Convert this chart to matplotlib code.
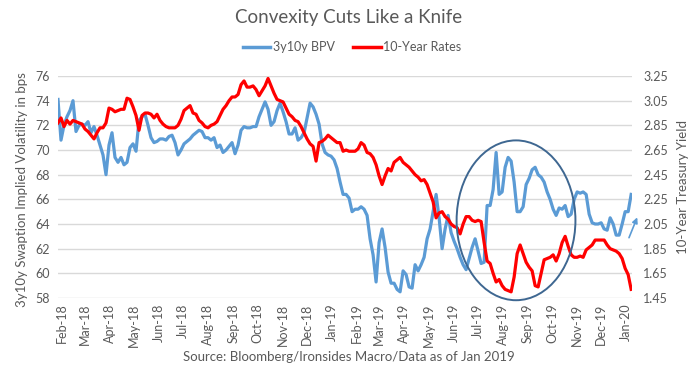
import numpy as np
import pandas as pd
import matplotlib
matplotlib.use('Agg')
import matplotlib.pyplot as plt
import matplotlib.dates as mdates
from matplotlib.patches import Ellipse, FancyArrowPatch
from matplotlib.lines import Line2D

plt.rcParams['font.family'] = ['Lato', 'DejaVu Sans']

# data (one reading roughly every 3-4 days)
start_date = '2018-01-27'
end_date = '2020-01-07'

bpv = [
    74.1, 70.8, 72.0, 72.7, 73.2, 74.0, 71.5, 72.0, 72.1, 72.0, 72.3, 71.4, 71.9, 71.2, 70.4, 69.6,
    68.0, 70.4, 71.4, 69.4, 69.0, 69.4, 68.8, 69.0, 70.2, 70.5, 69.9, 72.4, 72.7, 72.9, 72.0, 71.0,
    70.6, 70.7, 70.9, 70.9, 70.8, 71.1, 71.2, 70.6, 69.6, 70.0, 70.5, 70.7, 70.9, 71.2, 71.4, 71.6,
    71.5, 71.0, 71.0, 70.8, 71.0, 70.2, 70.4, 69.8, 70.0, 70.3, 70.6, 69.7, 70.4, 71.6, 71.9, 71.8,
    71.8, 71.9, 71.9, 72.7, 73.3, 73.9, 73.3, 72.0, 72.3, 73.2, 73.8, 73.1, 72.3, 71.3, 71.3, 71.8,
    70.8, 71.0, 71.4, 72.6, 73.8, 73.5, 72.9, 72.1, 70.5, 69.8, 69.6, 69.5, 69.2, 68.5, 67.4, 66.4,
    66.4, 66.1, 65.0, 65.2, 65.2, 65.4, 65.2, 64.7, 62.8, 61.5, 59.3, 62.5, 63.6, 62.1, 60.1, 59.2,
    59.2, 58.7, 58.5, 60.2, 59.9, 58.9, 58.8, 60.7, 60.2, 60.7, 61.3, 62.8, 63.6, 65.0, 66.4, 64.5,
    62.0, 63.6, 64.7, 63.3, 62.6, 62.0, 61.3, 60.7, 60.3, 61.2, 62.1, 62.8, 61.8, 60.8, 60.9, 65.5,
    65.5, 66.8, 69.8, 66.4, 66.6, 68.6, 69.4, 69.1, 67.4, 65.0, 65.0, 65.4, 67.2, 67.7, 68.4, 68.6,
    68.0, 67.8, 67.4, 66.6, 66.0, 65.2, 64.7, 65.3, 65.2, 65.5, 64.6, 64.8, 66.0, 66.6, 66.5, 66.6,
    66.4, 64.8, 64.1, 64.0, 64.0, 64.1, 63.6, 63.5, 64.5, 64.0, 63.1, 63.1, 64.0, 65.0, 65.0, 66.4,
]

rates = [
    2.87, 2.91, 2.84, 2.89, 2.86, 2.89, 2.88, 2.87, 2.86, 2.82, 2.80, 2.77, 2.74, 2.79, 2.83, 2.83,
    2.87, 2.99, 2.98, 2.96, 2.97, 2.98, 2.98, 3.07, 3.06, 3.00, 2.93, 2.81, 2.93, 2.95, 2.95, 2.94,
    2.91, 2.94, 2.89, 2.86, 2.84, 2.83, 2.83, 2.83, 2.85, 2.90, 2.97, 2.99, 3.01, 2.95, 2.94, 2.89,
    2.87, 2.84, 2.83, 2.85, 2.86, 2.88, 2.93, 2.98, 3.01, 3.05, 3.08, 3.08, 3.10, 3.18, 3.21, 3.16,
    3.16, 3.17, 3.14, 3.09, 3.13, 3.17, 3.23, 3.17, 3.11, 3.06, 3.05, 3.04, 2.99, 2.94, 2.92, 2.89,
    2.88, 2.84, 2.79, 2.74, 2.70, 2.68, 2.56, 2.71, 2.72, 2.74, 2.77, 2.75, 2.73, 2.71, 2.71, 2.64,
    2.65, 2.64, 2.64, 2.64, 2.66, 2.71, 2.69, 2.63, 2.62, 2.59, 2.53, 2.44, 2.37, 2.44, 2.50, 2.48,
    2.55, 2.57, 2.59, 2.55, 2.53, 2.51, 2.48, 2.45, 2.43, 2.40, 2.41, 2.37, 2.30, 2.23, 2.10, 2.14,
    2.15, 2.11, 2.09, 2.05, 2.03, 2.02, 1.97, 2.05, 2.11, 2.11, 2.08, 2.07, 2.08, 2.07, 1.90, 1.75,
    1.73, 1.65, 1.58, 1.60, 1.55, 1.52, 1.51, 1.50, 1.62, 1.81, 1.88, 1.81, 1.74, 1.70, 1.67, 1.55,
    1.54, 1.65, 1.76, 1.77, 1.78, 1.80, 1.75, 1.81, 1.90, 1.95, 1.87, 1.80, 1.78, 1.78, 1.79, 1.78,
    1.84, 1.86, 1.88, 1.92, 1.92, 1.92, 1.92, 1.88, 1.85, 1.84, 1.83, 1.81, 1.77, 1.69, 1.64, 1.52,
]

left_ticks = [58, 60, 62, 64, 66, 68, 70, 72, 74, 76]
right_ticks = [1.45, 1.65, 1.85, 2.05, 2.25, 2.45, 2.65, 2.85, 3.05, 3.25]

bpv_dates = pd.date_range(start_date, end_date, periods=len(bpv))
rate_dates = pd.date_range(start_date, end_date, periods=len(rates))

blue = '#5B9BD5'
red = '#FF0000'
grey = '#595959'

fig = plt.figure(figsize=(6.97, 3.69), dpi=100)
ax = fig.add_axes([0.0832, 0.1924, 0.8235, 0.6016])
ax2 = ax.twinx()

ax.plot(bpv_dates, bpv, color=blue, linewidth=2.3, solid_joinstyle='round')
ax2.plot(rate_dates, rates, color=red, linewidth=2.3, solid_joinstyle='round')

ax.set_ylim(58, 76)
ax.set_yticks(left_ticks)
ax2.set_ylim(1.45, 3.25)
ax2.set_yticks(right_ticks)
ax2.set_yticklabels(['%.2f' % t for t in right_ticks])
ax.set_xlim(pd.Timestamp('2018-01-27'), pd.Timestamp('2020-01-08'))

ax.xaxis.set_major_locator(mdates.MonthLocator())
ax.xaxis.set_major_formatter(mdates.DateFormatter('%b-%y'))
for lbl in ax.get_xticklabels():
    lbl.set_rotation(90)

ax.grid(axis='y', color='#D9D9D9', linewidth=1)
ax.set_axisbelow(True)
for a in (ax, ax2):
    for s in a.spines.values():
        s.set_visible(False)
ax.tick_params(axis='y', length=0, pad=6, labelsize=9, labelcolor=grey)
ax.tick_params(axis='x', length=0, pad=4, labelsize=9, labelcolor=grey)
ax2.tick_params(axis='y', length=0, pad=8, labelsize=9, labelcolor=grey)

ax.set_ylabel('3y10y Swaption Implied Volatility in bps', fontsize=9.5, color=grey)
ax.yaxis.set_label_coords(-0.052, 0.49)
ax2.set_ylabel('10-Year Treasury Yield', fontsize=9.5, color=grey, rotation=90)
ax2.yaxis.set_label_coords(1.078, 0.5)

# annotation circle and arrow
ell = Ellipse((0.798, 0.35), 0.207, 0.72, transform=ax2.transAxes, fill=False,
              edgecolor='#3E6791', linewidth=1.4, clip_on=False, zorder=5)
ax2.add_patch(ell)
arr = FancyArrowPatch((0.993, 0.26), (1.011, 0.375), transform=ax2.transAxes,
                      arrowstyle='-|>', mutation_scale=8, color=blue, linewidth=1.2,
                      clip_on=False)
ax2.add_patch(arr)

fig.text(0.5, 1 - 18 / 369, 'Convexity Cuts Like a Knife', ha='center', va='center',
         fontsize=13.5, color=grey)

handles = [Line2D([], [], color=blue, linewidth=2.5), Line2D([], [], color=red, linewidth=2.5)]
fig.legend(handles, ['3y10y BPV', '10-Year Rates'], loc='center', bbox_to_anchor=(0.505, 1 - 47 / 369),
           ncol=2, frameon=False, fontsize=9, handlelength=2.2, handletextpad=0.2, columnspacing=1.5,
           labelcolor=grey)

fig.text(0.5, 1 - 357 / 369, 'Source: Bloomberg/Ironsides Macro/Data as of Jan 2019', ha='center',
         va='center', fontsize=9.5, color=grey)

fig.savefig('out.png', dpi=100, facecolor='white')
